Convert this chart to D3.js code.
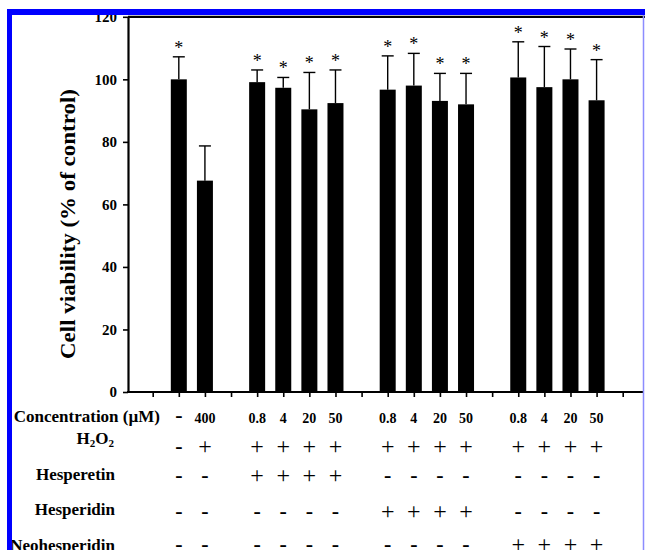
<!DOCTYPE html>
<html>
<head>
<meta charset="utf-8">
<script src="https://cdn.jsdelivr.net/npm/d3@7"></script>
<style>
  html, body { margin: 0; padding: 0; background: #fff; }
  svg { display: block; }
  text { font-family: "Liberation Serif", "Times New Roman", serif; }
</style>
</head>
<body>
<svg id="chart" width="645" height="550"></svg>
<script>
// ---- data ----
const groupSizes = [2, 4, 4, 4];
const concentration = ["-", "400", "0.8", "4", "20", "50", "0.8", "4", "20", "50", "0.8", "4", "20", "50"];
const viability = [100, 67.6, 99.1, 97.3, 90.4, 92.4, 96.7, 98.0, 93.1, 92.0, 100.6, 97.5, 100.0, 93.3];
const errorSD = [7.2, 11.1, 3.9, 3.3, 11.8, 10.6, 10.8, 10.3, 8.8, 9.9, 11.4, 13.0, 9.7, 13.0];
const significant = [true, false, true, true, true, true, true, true, true, true, true, true, true, true];
const rowH2O2 = ["-", "+", "+", "+", "+", "+", "+", "+", "+", "+", "+", "+", "+", "+"];
const rowHesperetin = ["-", "-", "+", "+", "+", "+", "-", "-", "-", "-", "-", "-", "-", "-"];
const rowHesperidin = ["-", "-", "-", "-", "-", "-", "+", "+", "+", "+", "-", "-", "-", "-"];
const rowNeohesperidin = ["-", "-", "-", "-", "-", "-", "-", "-", "-", "-", "+", "+", "+", "+"];
const yTicks = [0, 20, 40, 60, 80, 100, 120];
const yLabel = "Cell viability (% of control)";

// ---- build slot domain (gaps between groups) ----
const slots = [];
const barSlot = [];
let bi = 0;
slots.push("gap0");
groupSizes.forEach((n, g) => {
  for (let k = 0; k < n; k++) { const key = "b" + bi; slots.push(key); barSlot.push(key); bi++; }
  slots.push("gap" + (g + 1));
});

const svg = d3.select("#chart");
const serif = '"Liberation Serif", "Times New Roman", serif';

const x = d3.scalePoint().domain(slots).range([152.7, 622.7]);
const y = d3.scaleLinear().domain([0, 120]).range([392, 16.8]);
const axisLeftX = 128, axisRightX = 643;
const barW = 16, capW = 12;

// top frame line
svg.append("line").attr("x1", axisLeftX).attr("x2", 645)
  .attr("y1", y(120)).attr("y2", y(120))
  .attr("stroke", "#000").attr("stroke-width", 2.2);

// bars
const bars = viability.map((v, i) => ({ v, e: errorSD[i], s: significant[i], key: barSlot[i] }));
svg.append("g").selectAll("rect").data(bars).join("rect")
  .attr("x", d => x(d.key) - barW / 2)
  .attr("width", barW)
  .attr("y", d => y(d.v))
  .attr("height", d => y(0) - y(d.v))
  .attr("fill", "#000");

// error bars (upper only)
const eg = svg.append("g").attr("stroke", "#000").attr("stroke-width", 1.4);
eg.selectAll("line.v").data(bars).join("line").attr("class", "v")
  .attr("x1", d => x(d.key)).attr("x2", d => x(d.key))
  .attr("y1", d => y(d.v)).attr("y2", d => y(d.v + d.e));
eg.selectAll("line.c").data(bars).join("line").attr("class", "c")
  .attr("x1", d => x(d.key) - capW / 2).attr("x2", d => x(d.key) + capW / 2)
  .attr("y1", d => y(d.v + d.e)).attr("y2", d => y(d.v + d.e));

// significance stars
svg.append("g").selectAll("text").data(bars.filter(d => d.s)).join("text")
  .attr("x", d => x(d.key))
  .attr("y", d => y(d.v + d.e) - 3)
  .attr("text-anchor", "middle")
  .attr("font-size", 18)
  .attr("fill", "#000")
  .text("*");

// y axis
const yAxis = svg.append("g").attr("transform", `translate(${axisLeftX},0)`)
  .call(d3.axisLeft(y).tickValues(yTicks).tickSize(5).tickSizeOuter(0).tickFormat(d3.format("d")));
yAxis.select(".domain").attr("stroke-width", 2.2);
yAxis.selectAll(".tick line").attr("stroke-width", 1.6);
yAxis.selectAll(".tick text")
  .attr("font-family", serif).attr("font-weight", "bold").attr("font-size", 15)
  .attr("x", -11).attr("dy", "0.33em").attr("fill", "#000");

// x axis
const xAxis = svg.append("g").attr("transform", `translate(0,${y(0)})`)
  .call(d3.axisBottom(x).tickSize(5).tickSizeOuter(0).tickFormat(""));
xAxis.select(".domain").remove();
xAxis.selectAll(".tick line").attr("stroke-width", 1.6);
svg.append("line").attr("x1", axisLeftX - 1).attr("x2", axisRightX)
  .attr("y1", y(0)).attr("y2", y(0)).attr("stroke", "#000").attr("stroke-width", 2.2);

// y axis title
svg.append("text")
  .attr("transform", `translate(75,224) rotate(-90)`)
  .attr("text-anchor", "middle")
  .attr("font-weight", "bold").attr("font-size", 20.5)
  .attr("textLength", 270).attr("lengthAdjust", "spacingAndGlyphs")
  .text(yLabel);

// treatment table
const table = svg.append("g");
// Concentration row
table.append("text").attr("x", 160).attr("y", 422).attr("text-anchor", "end")
  .attr("font-weight", "bold").attr("font-size", 17).text("Concentration (\u00b5M)");
table.selectAll("text.conc").data(concentration.map((c, i) => ({ c, key: barSlot[i] }))).join("text")
  .attr("class", "conc")
  .attr("x", d => x(d.key))
  .attr("y", d => d.c === "-" ? 422 : 423)
  .attr("text-anchor", "middle")
  .attr("font-weight", "bold")
  .attr("font-size", d => d.c === "-" ? 22 : 14)
  .text(d => d.c);

// H2O2 label
const h = table.append("text").attr("x", 114).attr("y", 443.5).attr("text-anchor", "end")
  .attr("font-weight", "bold").attr("font-size", 17);
h.append("tspan").text("H");
h.append("tspan").attr("font-size", 11).attr("dy", 3).text("2");
h.append("tspan").attr("dy", -3).text("O");
h.append("tspan").attr("font-size", 11).attr("dy", 3).text("2");

const rows = [
  { label: null, vals: rowH2O2, cy: 447.5 },
  { label: "Hesperetin", vals: rowHesperetin, cy: 476.5, ly: 480 },
  { label: "Hesperidin", vals: rowHesperidin, cy: 512.5, ly: 515 },
  { label: "Neohesperidin", vals: rowNeohesperidin, cy: 546, ly: 551 }
];
rows.forEach(r => {
  if (r.label) {
    table.append("text").attr("x", 115).attr("y", r.ly).attr("text-anchor", "end")
      .attr("font-weight", "bold").attr("font-size", 17).text(r.label);
  }
  table.selectAll(null).data(r.vals.map((v, i) => ({ v, key: barSlot[i] }))).join("text")
    .attr("x", d => x(d.key))
    .attr("y", d => d.v === "+" ? r.cy + 6 : r.cy + 5)
    .attr("text-anchor", "middle")
    .attr("font-weight", d => d.v === "+" ? "normal" : "bold")
    .attr("font-size", d => d.v === "+" ? 24 : 22)
    .text(d => d.v);
});

// blue frame (drawn on top)
svg.append("rect").attr("x", 7).attr("y", 9).attr("width", 638).attr("height", 6).attr("fill", "#0000ff");
svg.append("rect").attr("x", 7).attr("y", 9).attr("width", 5).attr("height", 541).attr("fill", "#0000ff");
svg.append("line").attr("x1", 643.5).attr("x2", 643.5).attr("y1", 15).attr("y2", 550)
  .attr("stroke", "#8c8cff").attr("stroke-width", 1.5);
</script>
</body>
</html>
